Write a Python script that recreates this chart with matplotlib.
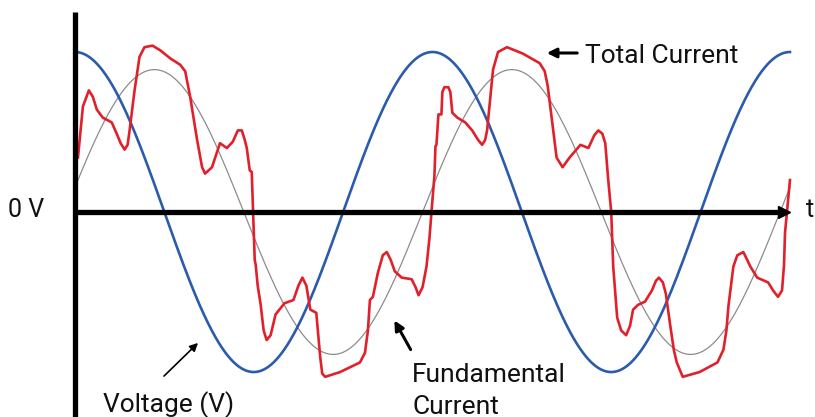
import numpy as np
import matplotlib.pyplot as plt

# --------------------------------------------------------------------------+
# Values (angle in degrees, amplitude in units of V peak)

# voltage: pure cosine, peak at 0 deg
volt_amp = 1.0
volt_peak_deg = 0.0

# fundamental current: lagging sine
fund_amp = 0.89
fund_peak_deg = 80.0

period_deg = 360.0
t_end = 720.0

# total (distorted) current, traced point by point
red_t = [3, 8, 14, 18, 22, 28, 37, 42, 46, 50, 53, 55, 60, 65, 70, 78, 86, 96,
         106, 111, 116, 123, 128, 131, 138, 146, 153, 159, 164, 168, 171, 173,
         176, 178, 179, 181, 182, 184, 187, 190, 193, 197, 202, 211, 220, 225,
         229, 233, 237, 243, 247, 249, 252, 267, 287, 292, 295, 297, 300, 305,
         310, 314, 318, 322, 329, 339, 343, 346, 350, 354, 357, 359,
         362, 363, 364, 366, 369, 370, 372, 376, 378, 380, 385, 393, 400, 406,
         410, 413, 415, 418, 421, 426, 435, 443, 451, 468, 473, 476, 480, 485,
         491, 498, 509, 517, 523, 527, 531, 534, 537, 540, 542, 546, 550, 555,
         559, 562, 567, 574, 581, 585, 588, 592, 595, 599, 603, 606, 612, 629,
         647, 653, 656, 658, 663, 667, 673, 677, 680, 687, 698, 703, 708, 712,
         714, 715, 717, 720]
red_i = [0.34, 0.66, 0.76, 0.72, 0.64, 0.59, 0.56, 0.49, 0.43, 0.39, 0.42, 0.51,
         0.76, 0.97, 1.03, 1.04, 1.01, 0.96, 0.92, 0.88, 0.72, 0.45, 0.28, 0.24,
         0.28, 0.43, 0.40, 0.44, 0.51, 0.51, 0.45, 0.40, 0.26, 0.25, 0.06, -0.30,
         -0.33, -0.46, -0.58, -0.74, -0.80, -0.77, -0.64, -0.57, -0.55, -0.46,
         -0.41, -0.46, -0.61, -0.63, -0.91, -1.01, -1.03, -1.00, -0.94, -0.88,
         -0.74, -0.55, -0.53, -0.38, -0.27, -0.25, -0.30, -0.37, -0.41, -0.42,
         -0.47, -0.52, -0.47, -0.34, -0.16, 0.0,
         0.23, 0.41, 0.42, 0.61, 0.61, 0.75, 0.78, 0.78, 0.75, 0.62, 0.59, 0.56,
         0.51, 0.45, 0.42, 0.45, 0.51, 0.70, 0.89, 1.0, 1.03, 1.01, 0.99, 0.93,
         0.88, 0.79, 0.59, 0.34, 0.28, 0.34, 0.42, 0.40, 0.48, 0.51, 0.49, 0.43,
         0.20, 0.0, -0.34, -0.66, -0.74, -0.77, -0.71, -0.61, -0.58, -0.56,
         -0.49, -0.43, -0.41, -0.44, -0.51, -0.69, -0.86, -0.94, -1.03, -1.00,
         -0.94, -0.86, -0.74, -0.59, -0.34, -0.27, -0.25, -0.30, -0.34, -0.41,
         -0.44, -0.49, -0.53, -0.49, -0.33, -0.13, 0.0, 0.20]

# --------------------------------------------------------------------------+

red = '#e0202b'
blue = '#2b5cab'
grey = '#8c8c8c'
font = 'Roboto'
ink = '#111111'
fs = 19

fig = plt.figure(figsize=(8.15, 4.17), dpi=100)
ax = fig.add_axes([0, 0, 1, 1])
ax.set_xlim(-75.5, 745.2)
ax.set_ylim(-1.281, 1.325)
ax.axis('off')

t = np.linspace(0, t_end, 1441)
volt = volt_amp * np.cos(np.radians(t - volt_peak_deg) * 360.0 / period_deg)
fund = fund_amp * np.cos(np.radians(t - fund_peak_deg) * 360.0 / period_deg)

ax.plot(t, fund, color=grey, lw=0.9, zorder=2)
ax.plot(t, volt, color=blue, lw=1.9, zorder=3)
ax.plot(red_t, red_i, color=red, lw=1.9, solid_joinstyle='round', zorder=4)

# axes drawn by hand
ax.plot([0, 0], [-1.3, 1.25], color='black', lw=3.8, solid_capstyle='butt', zorder=5)
ax.plot([0, 708], [0, 0], color='black', lw=3.8, solid_capstyle='butt', zorder=5)
ax.plot([714], [0], marker='>', ms=9, color='black', zorder=5)

# labels
ax.text(8, 200, '0 V', transform=None, fontsize=18, family=font, color=ink, va='baseline')
ax.text(806, 200, 't', transform=None, fontsize=18, family=font, color=ink, va='baseline')
ax.text(585, 354, 'Total Current', transform=None, fontsize=fs, family=font, color=ink, va='baseline')
ax.text(412, 35, 'Fundamental', transform=None, fontsize=fs, family=font, color=ink, va='baseline')
ax.text(412, 3, 'Current', transform=None, fontsize=fs, family=font, color=ink, va='baseline')
ax.text(103, 5, 'Voltage (V)', transform=None, fontsize=fs, family=font, color=ink, va='baseline')

ax.annotate('', xy=(544, 364), xytext=(580, 364), xycoords='figure pixels',
            arrowprops=dict(arrowstyle='-|>', color='black', lw=2.2, mutation_scale=14))
ax.annotate('', xy=(393, 99), xytext=(412, 65), xycoords='figure pixels',
            arrowprops=dict(arrowstyle='-|>', color='black', lw=2.2, mutation_scale=14))
ax.annotate('', xy=(200, 76), xytext=(162, 39), xycoords='figure pixels',
            arrowprops=dict(arrowstyle='-|>', color='black', lw=1.2, mutation_scale=12))

fig.savefig('out.png', dpi=100)
